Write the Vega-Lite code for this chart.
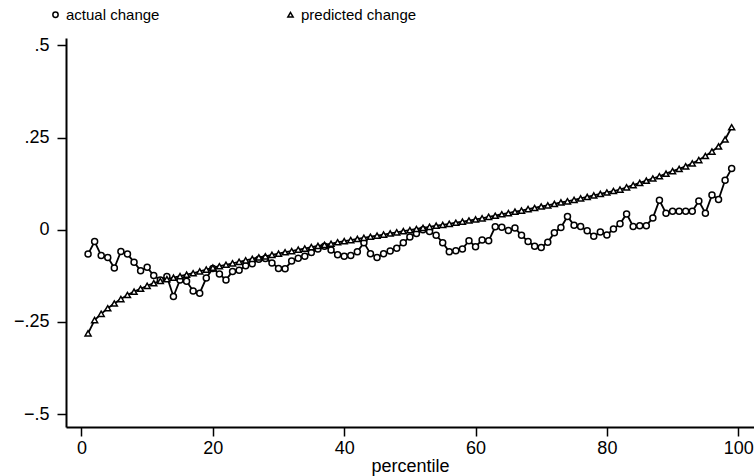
{
  "$schema": "https://vega.github.io/schema/vega-lite/v6.json",
  "width": 688,
  "height": 389,
  "autosize": "none",
  "padding": {"left": 66, "top": 38, "right": 0, "bottom": 49},
  "background": "white",
  "config": {
    "view": {"stroke": null},
    "font": "Liberation Sans",
    "axis": {"grid": false, "domainColor": "black", "domainWidth": 2, "tickColor": "black", "tickWidth": 1.5, "tickSize": 9, "labelColor": "black", "labelFont": "Liberation Sans", "labelFontSize": 18, "titleFont": "Liberation Sans", "titleFontSize": 18, "titleFontWeight": "normal", "titleColor": "black"}
  },
  "datasets": {
    "pts": [
      {"pct":1,"series":"actual change","value":-0.066},{"pct":2,"series":"actual change","value":-0.032},{"pct":3,"series":"actual change","value":-0.07},{"pct":4,"series":"actual change","value":-0.075},{"pct":5,"series":"actual change","value":-0.104},{"pct":6,"series":"actual change","value":-0.059},{"pct":7,"series":"actual change","value":-0.066},{"pct":8,"series":"actual change","value":-0.088},{"pct":9,"series":"actual change","value":-0.111},{"pct":10,"series":"actual change","value":-0.102},
      {"pct":11,"series":"actual change","value":-0.124},{"pct":12,"series":"actual change","value":-0.136},{"pct":13,"series":"actual change","value":-0.127},{"pct":14,"series":"actual change","value":-0.181},{"pct":15,"series":"actual change","value":-0.136},{"pct":16,"series":"actual change","value":-0.14},{"pct":17,"series":"actual change","value":-0.166},{"pct":18,"series":"actual change","value":-0.172},{"pct":19,"series":"actual change","value":-0.131},{"pct":20,"series":"actual change","value":-0.105},
      {"pct":21,"series":"actual change","value":-0.12},{"pct":22,"series":"actual change","value":-0.136},{"pct":23,"series":"actual change","value":-0.113},{"pct":24,"series":"actual change","value":-0.11},{"pct":25,"series":"actual change","value":-0.098},{"pct":26,"series":"actual change","value":-0.092},{"pct":27,"series":"actual change","value":-0.08},{"pct":28,"series":"actual change","value":-0.078},{"pct":29,"series":"actual change","value":-0.09},{"pct":30,"series":"actual change","value":-0.105},
      {"pct":31,"series":"actual change","value":-0.106},{"pct":32,"series":"actual change","value":-0.085},{"pct":33,"series":"actual change","value":-0.077},{"pct":34,"series":"actual change","value":-0.072},{"pct":35,"series":"actual change","value":-0.062},{"pct":36,"series":"actual change","value":-0.052},{"pct":37,"series":"actual change","value":-0.045},{"pct":38,"series":"actual change","value":-0.055},{"pct":39,"series":"actual change","value":-0.068},{"pct":40,"series":"actual change","value":-0.072},
      {"pct":41,"series":"actual change","value":-0.07},{"pct":42,"series":"actual change","value":-0.06},{"pct":43,"series":"actual change","value":-0.035},{"pct":44,"series":"actual change","value":-0.065},{"pct":45,"series":"actual change","value":-0.075},{"pct":46,"series":"actual change","value":-0.065},{"pct":47,"series":"actual change","value":-0.058},{"pct":48,"series":"actual change","value":-0.05},{"pct":49,"series":"actual change","value":-0.035},{"pct":50,"series":"actual change","value":-0.02},
      {"pct":51,"series":"actual change","value":-0.01},{"pct":52,"series":"actual change","value":0.0},{"pct":53,"series":"actual change","value":-0.005},{"pct":54,"series":"actual change","value":-0.015},{"pct":55,"series":"actual change","value":-0.035},{"pct":56,"series":"actual change","value":-0.06},{"pct":57,"series":"actual change","value":-0.057},{"pct":58,"series":"actual change","value":-0.052},{"pct":59,"series":"actual change","value":-0.03},{"pct":60,"series":"actual change","value":-0.046},
      {"pct":61,"series":"actual change","value":-0.028},{"pct":62,"series":"actual change","value":-0.03},{"pct":63,"series":"actual change","value":0.008},{"pct":64,"series":"actual change","value":0.007},{"pct":65,"series":"actual change","value":-0.002},{"pct":66,"series":"actual change","value":0.005},{"pct":67,"series":"actual change","value":-0.015},{"pct":68,"series":"actual change","value":-0.032},{"pct":69,"series":"actual change","value":-0.045},{"pct":70,"series":"actual change","value":-0.048},
      {"pct":71,"series":"actual change","value":-0.034},{"pct":72,"series":"actual change","value":-0.008},{"pct":73,"series":"actual change","value":0.006},{"pct":74,"series":"actual change","value":0.036},{"pct":75,"series":"actual change","value":0.012},{"pct":76,"series":"actual change","value":0.009},{"pct":77,"series":"actual change","value":-0.003},{"pct":78,"series":"actual change","value":-0.018},{"pct":79,"series":"actual change","value":-0.006},{"pct":80,"series":"actual change","value":-0.014},
      {"pct":81,"series":"actual change","value":0.002},{"pct":82,"series":"actual change","value":0.016},{"pct":83,"series":"actual change","value":0.043},{"pct":84,"series":"actual change","value":0.009},{"pct":85,"series":"actual change","value":0.011},{"pct":86,"series":"actual change","value":0.011},{"pct":87,"series":"actual change","value":0.032},{"pct":88,"series":"actual change","value":0.08},{"pct":89,"series":"actual change","value":0.045},{"pct":90,"series":"actual change","value":0.05},
      {"pct":91,"series":"actual change","value":0.05},{"pct":92,"series":"actual change","value":0.05},{"pct":93,"series":"actual change","value":0.05},{"pct":94,"series":"actual change","value":0.078},{"pct":95,"series":"actual change","value":0.045},{"pct":96,"series":"actual change","value":0.094},{"pct":97,"series":"actual change","value":0.082},{"pct":98,"series":"actual change","value":0.134},{"pct":99,"series":"actual change","value":0.166},
      {"pct":1,"series":"predicted change","value":-0.281},{"pct":2,"series":"predicted change","value":-0.245},{"pct":3,"series":"predicted change","value":-0.228},{"pct":4,"series":"predicted change","value":-0.213},{"pct":5,"series":"predicted change","value":-0.2},{"pct":6,"series":"predicted change","value":-0.188},{"pct":7,"series":"predicted change","value":-0.177},{"pct":8,"series":"predicted change","value":-0.168},{"pct":9,"series":"predicted change","value":-0.16},{"pct":10,"series":"predicted change","value":-0.152},
      {"pct":11,"series":"predicted change","value":-0.145},{"pct":12,"series":"predicted change","value":-0.139},{"pct":13,"series":"predicted change","value":-0.134},{"pct":14,"series":"predicted change","value":-0.13},{"pct":15,"series":"predicted change","value":-0.126},{"pct":16,"series":"predicted change","value":-0.122},{"pct":17,"series":"predicted change","value":-0.118},{"pct":18,"series":"predicted change","value":-0.113},{"pct":19,"series":"predicted change","value":-0.108},{"pct":20,"series":"predicted change","value":-0.103},
      {"pct":21,"series":"predicted change","value":-0.099},{"pct":22,"series":"predicted change","value":-0.095},{"pct":23,"series":"predicted change","value":-0.091},{"pct":24,"series":"predicted change","value":-0.087},{"pct":25,"series":"predicted change","value":-0.083},{"pct":26,"series":"predicted change","value":-0.079},{"pct":27,"series":"predicted change","value":-0.075},{"pct":28,"series":"predicted change","value":-0.072},{"pct":29,"series":"predicted change","value":-0.068},{"pct":30,"series":"predicted change","value":-0.065},
      {"pct":31,"series":"predicted change","value":-0.061},{"pct":32,"series":"predicted change","value":-0.058},{"pct":33,"series":"predicted change","value":-0.054},{"pct":34,"series":"predicted change","value":-0.051},{"pct":35,"series":"predicted change","value":-0.047},{"pct":36,"series":"predicted change","value":-0.044},{"pct":37,"series":"predicted change","value":-0.041},{"pct":38,"series":"predicted change","value":-0.038},{"pct":39,"series":"predicted change","value":-0.034},{"pct":40,"series":"predicted change","value":-0.031},
      {"pct":41,"series":"predicted change","value":-0.028},{"pct":42,"series":"predicted change","value":-0.025},{"pct":43,"series":"predicted change","value":-0.022},{"pct":44,"series":"predicted change","value":-0.019},{"pct":45,"series":"predicted change","value":-0.016},{"pct":46,"series":"predicted change","value":-0.013},{"pct":47,"series":"predicted change","value":-0.01},{"pct":48,"series":"predicted change","value":-0.007},{"pct":49,"series":"predicted change","value":-0.004},{"pct":50,"series":"predicted change","value":-0.001},
      {"pct":51,"series":"predicted change","value":0.002},{"pct":52,"series":"predicted change","value":0.005},{"pct":53,"series":"predicted change","value":0.008},{"pct":54,"series":"predicted change","value":0.011},{"pct":55,"series":"predicted change","value":0.013},{"pct":56,"series":"predicted change","value":0.016},{"pct":57,"series":"predicted change","value":0.019},{"pct":58,"series":"predicted change","value":0.022},{"pct":59,"series":"predicted change","value":0.025},{"pct":60,"series":"predicted change","value":0.028},
      {"pct":61,"series":"predicted change","value":0.031},{"pct":62,"series":"predicted change","value":0.035},{"pct":63,"series":"predicted change","value":0.038},{"pct":64,"series":"predicted change","value":0.042},{"pct":65,"series":"predicted change","value":0.045},{"pct":66,"series":"predicted change","value":0.049},{"pct":67,"series":"predicted change","value":0.052},{"pct":68,"series":"predicted change","value":0.056},{"pct":69,"series":"predicted change","value":0.059},{"pct":70,"series":"predicted change","value":0.063},
      {"pct":71,"series":"predicted change","value":0.066},{"pct":72,"series":"predicted change","value":0.07},{"pct":73,"series":"predicted change","value":0.074},{"pct":74,"series":"predicted change","value":0.077},{"pct":75,"series":"predicted change","value":0.081},{"pct":76,"series":"predicted change","value":0.085},{"pct":77,"series":"predicted change","value":0.089},{"pct":78,"series":"predicted change","value":0.093},{"pct":79,"series":"predicted change","value":0.097},{"pct":80,"series":"predicted change","value":0.101},
      {"pct":81,"series":"predicted change","value":0.105},{"pct":82,"series":"predicted change","value":0.109},{"pct":83,"series":"predicted change","value":0.115},{"pct":84,"series":"predicted change","value":0.121},{"pct":85,"series":"predicted change","value":0.127},{"pct":86,"series":"predicted change","value":0.133},{"pct":87,"series":"predicted change","value":0.139},{"pct":88,"series":"predicted change","value":0.145},{"pct":89,"series":"predicted change","value":0.152},{"pct":90,"series":"predicted change","value":0.159},
      {"pct":91,"series":"predicted change","value":0.165},{"pct":92,"series":"predicted change","value":0.172},{"pct":93,"series":"predicted change","value":0.18},{"pct":94,"series":"predicted change","value":0.189},{"pct":95,"series":"predicted change","value":0.2},{"pct":96,"series":"predicted change","value":0.212},{"pct":97,"series":"predicted change","value":0.226},{"pct":98,"series":"predicted change","value":0.245},{"pct":99,"series":"predicted change","value":0.278}
    ]
  },
  "data": {"name": "pts"},
  "encoding": {
    "x": {"field": "pct", "type": "quantitative", "scale": {"domain": [-2.36, 102.4], "nice": false, "zero": false},
      "axis": {"values": [0, 20, 40, 60, 80, 100], "title": "percentile", "labelPadding": 3, "titlePadding": 0}},
    "y": {"field": "value", "type": "quantitative", "scale": {"domain": [-0.535, 0.52], "nice": false, "zero": false},
      "axis": {"values": [-0.5, -0.25, 0, 0.25, 0.5], "title": null, "labelPadding": 8,
        "labelExpr": "datum.value == 0 ? '0' : replace(format(datum.value, ''), '0.', '.')"}}
  },
  "layer": [
    {
      "mark": {"type": "line", "color": "black", "strokeWidth": 1.8},
      "encoding": {"detail": {"field": "series"}}
    },
    {
      "mark": {"type": "point", "filled": false, "fill": "white", "fillOpacity": 1, "stroke": "black", "strokeWidth": 1.5, "opacity": 1, "size": 36},
      "encoding": {
        "shape": {"field": "series", "type": "nominal",
          "scale": {"domain": ["actual change", "predicted change"], "range": ["circle", "triangle-up"]},
          "legend": {"title": null, "orient": "none", "legendX": -18, "legendY": -31, "direction": "horizontal",
            "padding": 0, "columnPadding": 123, "labelFontSize": 15, "labelFont": "Liberation Sans", "labelColor": "black",
            "symbolSize": 28, "labelOffset": 3,
            "encode": {"symbols": {"update": {"stroke": {"value": "black"}, "fill": {"value": "white"}, "strokeWidth": {"value": 1.2}, "opacity": {"value": 1}, "fillOpacity": {"value": 1}, "strokeOpacity": {"value": 1}}}}}}
      }
    }
  ]
}
